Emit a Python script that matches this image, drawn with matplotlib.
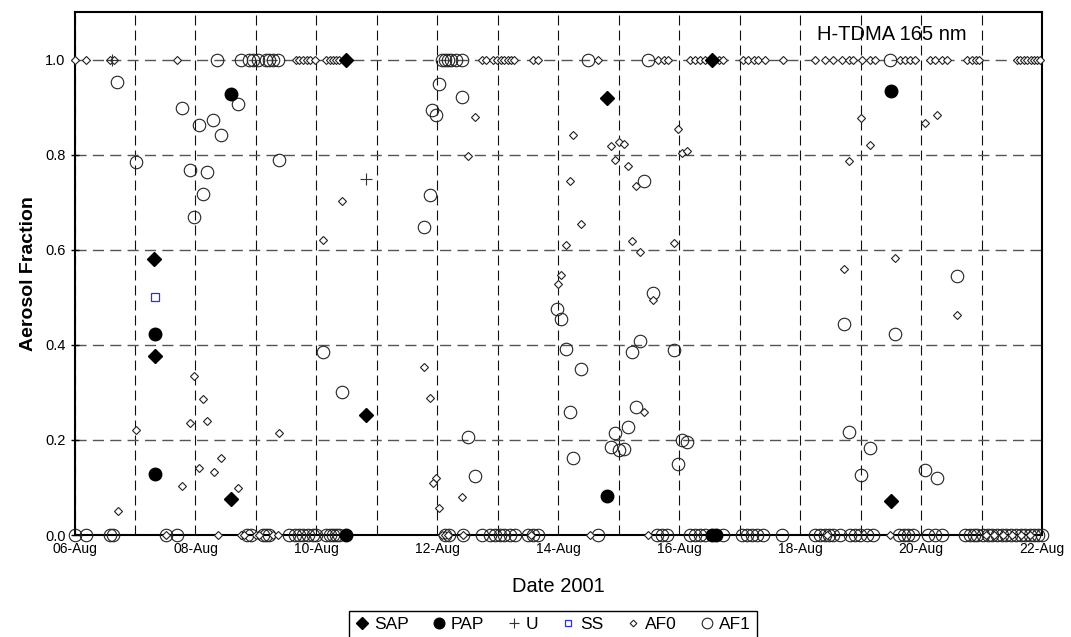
import numpy as np
import pandas as pd
import matplotlib
matplotlib.use("Agg")
import matplotlib.pyplot as plt
import matplotlib.dates as mdates
from matplotlib.ticker import FuncFormatter, MultipleLocator

plt.rcParams['font.family'] = ['Liberation Sans', 'DejaVu Sans']

# day of August 2001 (fractional) and aerosol fraction
sap_day = [7.32, 7.33, 8.58, 10.49, 10.82, 14.81, 16.54, 19.50]
sap_val = [0.58, 0.377, 0.075, 1.0, 0.253, 0.92, 1.0, 0.071]

pap_day = [8.58, 7.33, 7.33, 10.49, 14.81, 16.54, 16.60, 19.50]
pap_val = [0.928, 0.422, 0.129, 0.0, 0.083, 0.0, 0.0, 0.934]

u_day = [10.82, 6.62]
u_val = [0.75, 1.0]

ss_day = [7.33]
ss_val = [0.50]

af0_top_days = [6.0, 6.19, 6.59, 6.66, 7.7, 9.67, 9.72, 9.77, 9.84, 9.9, 9.97,
                10.16, 10.22, 10.27, 10.33, 10.38, 12.73, 12.8, 12.92, 12.99,
                13.05, 13.1, 13.16, 13.21, 13.27, 13.58, 13.67, 14.66, 15.65,
                15.74, 15.82, 16.18, 16.26, 16.34, 16.43, 16.65, 16.73, 17.06,
                17.14, 17.23, 17.31, 17.41, 17.72, 18.25, 18.41, 18.55, 18.69,
                18.8, 18.88, 19.02, 19.16, 19.24, 19.65, 19.74, 19.82, 19.9,
                20.15, 20.23, 20.34, 20.43, 20.76, 20.84, 20.91, 20.95, 21.59,
                21.64, 21.7, 21.75, 21.81, 21.86, 21.92, 21.97]
af0_bottom_days = [7.51, 8.37, 8.76, 8.81, 9.0, 9.05, 9.28, 9.36, 12.08, 12.12,
                   12.17, 12.42, 13.55, 14.52, 15.49, 18.44, 19.49, 21.07, 21.2,
                   21.36, 21.5, 21.65, 21.8]
af0_mid_day = [6.72, 7.02, 7.98, 8.12, 7.91, 8.19, 8.43, 8.05, 8.3, 7.78, 8.7,
               9.38, 10.42, 10.11, 12.63, 12.5, 14.25, 14.87, 15.01, 15.08,
               14.94, 15.15, 14.19, 15.29, 14.38, 14.12, 15.22, 15.35, 15.91,
               15.98, 16.04, 16.12, 14.05, 13.99, 11.78, 11.88, 11.97, 11.92,
               12.41, 12.02, 15.56, 15.42, 19.01, 20.06, 20.26, 19.15, 18.8,
               19.57, 18.73, 20.59]
af0_mid_val = [0.051, 0.22, 0.335, 0.286, 0.236, 0.24, 0.162, 0.141, 0.132,
               0.104, 0.098, 0.215, 0.703, 0.62, 0.88, 0.798, 0.842, 0.819,
               0.827, 0.823, 0.789, 0.777, 0.745, 0.734, 0.654, 0.611, 0.618,
               0.595, 0.615, 0.854, 0.804, 0.808, 0.548, 0.528, 0.354, 0.288,
               0.12, 0.11, 0.081, 0.056, 0.494, 0.258, 0.877, 0.867, 0.884,
               0.82, 0.787, 0.583, 0.56, 0.462]

af1_top_days = [8.36, 8.76, 8.89, 8.95, 9.03, 9.17, 9.22, 9.28, 9.36, 12.07,
                12.12, 12.18, 12.23, 12.31, 12.4, 14.49, 15.49, 19.49]
af1_bottom_days = [6.0, 6.19, 6.59, 6.63, 7.51, 7.7, 8.85, 8.92, 9.11, 9.17,
                   9.22, 9.55, 9.64, 9.72, 9.77, 9.86, 9.94, 10.0, 10.16, 10.22,
                   10.27, 10.33, 10.38, 12.13, 12.2, 12.42, 12.73, 12.87, 12.95,
                   13.03, 13.11, 13.2, 13.28, 13.5, 13.58, 13.67, 14.66, 15.63,
                   15.71, 15.79, 16.18, 16.26, 16.34, 16.43, 16.73, 17.03, 17.12,
                   17.2, 17.28, 17.39, 17.7, 18.25, 18.33, 18.41, 18.47, 18.55,
                   18.66, 18.83, 18.91, 18.99, 19.1, 19.21, 19.63, 19.71, 19.79,
                   19.87, 20.12, 20.23, 20.34, 20.73, 20.81, 20.87, 20.92, 21.03,
                   21.1, 21.17, 21.25, 21.33, 21.41, 21.49, 21.57, 21.65, 21.72,
                   21.8, 21.87, 21.94, 22.0]
af1_mid_day = [6.71, 7.78, 8.05, 8.29, 8.43, 8.7, 7.02, 7.91, 8.19, 8.12, 7.98,
               9.38, 10.11, 10.42, 12.02, 12.41, 11.91, 11.97, 11.88, 11.78,
               15.42, 13.98, 14.05, 15.56, 14.12, 14.38, 15.35, 15.22, 15.91,
               14.19, 15.28, 15.15, 14.94, 14.87, 15.01, 15.08, 14.25, 12.5,
               12.63, 16.04, 16.12, 15.98, 20.59, 18.73, 19.57, 18.8, 19.15,
               19.01, 20.06, 20.26]
af1_mid_val = [0.952, 0.899, 0.863, 0.873, 0.841, 0.906, 0.784, 0.767, 0.763,
               0.717, 0.669, 0.789, 0.385, 0.301, 0.948, 0.922, 0.895, 0.883,
               0.716, 0.649, 0.745, 0.475, 0.455, 0.51, 0.392, 0.349, 0.408,
               0.386, 0.389, 0.258, 0.27, 0.228, 0.215, 0.185, 0.178, 0.181,
               0.162, 0.207, 0.125, 0.2, 0.196, 0.15, 0.544, 0.445, 0.422,
               0.216, 0.183, 0.127, 0.137, 0.12]

af0_day = af0_top_days + af0_bottom_days + af0_mid_day
af0_val = [1.0] * len(af0_top_days) + [0.0] * len(af0_bottom_days) + af0_mid_val
af1_day = af1_top_days + af1_bottom_days + af1_mid_day
af1_val = [1.0] * len(af1_top_days) + [0.0] * len(af1_bottom_days) + af1_mid_val


def to_date(days):
    return pd.Timestamp('2001-08-01') + pd.to_timedelta(np.array(days) - 1, unit='D')


fig = plt.figure(figsize=(10.71, 6.37), dpi=100)
ax = fig.add_axes([0.0696, 0.160, 0.9034, 0.821])

kw = dict(linestyle='none', clip_on=False)
ax.plot(to_date(af1_day), af1_val, marker='o', ms=9, mfc='none', mec='#222222',
        mew=0.8, label='AF1', zorder=3, **kw)
ax.plot(to_date(af0_day), af0_val, marker='D', ms=4, mfc='white', mec='#222222',
        mew=0.8, label='AF0', zorder=4, **kw)
ax.plot(to_date(u_day), u_val, marker='+', ms=9, mec='#333333', mew=0.8,
        label='U', zorder=5, **kw)
ax.plot(to_date(ss_day), ss_val, marker='s', ms=5.5, mfc='none', mec='#2a2aff',
        mew=0.9, label='SS', zorder=5, **kw)
ax.plot(to_date(pap_day), pap_val, marker='o', ms=9, mfc='black', mec='black',
        label='PAP', zorder=6, **kw)
ax.plot(to_date(sap_day), sap_val, marker='D', ms=7, mfc='black', mec='black',
        label='SAP', zorder=7, **kw)

ax.set_xlim(pd.Timestamp('2001-08-06'), pd.Timestamp('2001-08-22'))
ax.set_ylim(0, 1.1)
ax.xaxis.set_major_locator(mdates.DayLocator(interval=1))


def day_label(x, pos):
    d = mdates.num2date(x)
    return d.strftime('%d-%b') if d.day % 2 == 0 else ''


ax.xaxis.set_major_formatter(FuncFormatter(day_label))
ax.yaxis.set_major_locator(MultipleLocator(0.2))
ax.yaxis.set_major_formatter(FuncFormatter(lambda v, p: f'{v:.1f}'))
ax.tick_params(axis='x', direction='in', length=0, labelsize=10, pad=5)
ax.tick_params(axis='y', direction='inout', length=6, width=1, labelsize=10.5)

ax.xaxis.grid(True, color='#111111', linestyle=(0, (9, 4.5)), linewidth=0.8)
ax.yaxis.grid(True, color='#555555', linestyle=(0, (8, 4.5)), linewidth=1.0)
ax.set_axisbelow(True)
ax.axhline(0, color='black', lw=1.2, zorder=2)
for s in ax.spines.values():
    s.set_linewidth(1.5)

ax.set_ylabel('Aerosol Fraction', fontsize=14, fontweight='bold', labelpad=6)
ax.set_xlabel('Date 2001', fontsize=14.5, labelpad=15)
ax.text(0.845, 0.957, 'H-TDMA 165 nm', transform=ax.transAxes, fontsize=14.5,
        ha='center', va='center')

handles, labels = ax.get_legend_handles_labels()
order = ['SAP', 'PAP', 'U', 'SS', 'AF0', 'AF1']
hmap = dict(zip(labels, handles))
leg = fig.legend([hmap[k] for k in order], order, loc='upper center',
                 bbox_to_anchor=(553 / 1071, 1 - 611 / 637), ncol=6,
                 fontsize=12.5, frameon=True, fancybox=False, edgecolor='black',
                 framealpha=1, handlelength=0.8, handletextpad=0.3,
                 columnspacing=1.3, borderpad=0.35, borderaxespad=0,
                 markerscale=0.85)
leg.get_frame().set_linewidth(1.0)

fig.savefig('out.png', dpi=100)
